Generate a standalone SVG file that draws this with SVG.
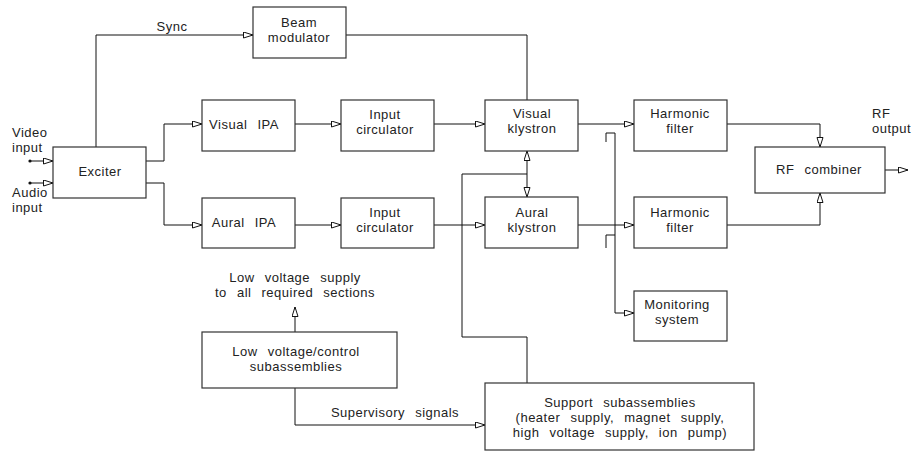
<svg xmlns="http://www.w3.org/2000/svg" width="915" height="453" viewBox="0 0 915 453">
<style>
.box{fill:#fff;stroke:#333;stroke-width:1.2}
.ln{fill:none;stroke:#111;stroke-width:1}
.arr{marker-end:url(#ah)}
text{font-family:"Liberation Sans",Arial,sans-serif;font-size:13px;fill:#222;letter-spacing:0.5px;word-spacing:6px}
.c{text-anchor:middle}
</style>
<defs>
<marker id="ah" markerUnits="userSpaceOnUse" markerWidth="12" markerHeight="8" refX="10" refY="3.5" orient="auto-start-reverse">
<path d="M0.5,0.5 L10,3.5 L0.5,6.5 Z" fill="#fff" stroke="#111" stroke-width="1"/>
</marker>
</defs>
<rect width="915" height="453" fill="#fff"/>
<g id="connectors">
<circle cx="30" cy="161" r="1.6" fill="#111"/>
<circle cx="30" cy="183" r="1.6" fill="#111"/>
<path class="ln arr" d="M30,161 H53"/>
<path class="ln arr" d="M30,183 H53"/>
<path class="ln arr" d="M96,147 V35 H253"/>
<path class="ln" d="M346,35 H527 V100"/>
<path class="ln arr" d="M146,161 H164 V124 H202"/>
<path class="ln arr" d="M146,183 H164 V225 H202"/>
<path class="ln arr" d="M295,124 H341"/>
<path class="ln arr" d="M295,225 H341"/>
<path class="ln arr" d="M434,124 H485"/>
<path class="ln arr" d="M434,225 H485"/>
<path class="ln arr" d="M578,124 H634"/>
<path class="ln arr" d="M578,225 H634"/>
<path class="ln arr" d="M727,124 H820 V147"/>
<path class="ln arr" d="M727,225 H820 V193"/>
<path class="ln arr" d="M885,170 H908"/>
<path class="ln" d="M527,151 V197" marker-start="url(#ah)" marker-end="url(#ah)"/>
<path class="ln" d="M527,174 H462 V337 H527 V383"/>
<path class="ln arr" d="M606,142 V133 H615 V313 H634"/>
<path class="ln" d="M606,248 V235 H615"/>
<path class="ln arr" d="M295,332 V307"/>
<path class="ln arr" d="M295,388 V425 H485"/>
</g>
<g id="labels">
<text x="172" y="31" class="c">Sync</text>
<text x="12" y="137">Video</text>
<text x="12" y="152">input</text>
<text x="12" y="197">Audio</text>
<text x="12" y="212">input</text>
<text x="872" y="118">RF</text>
<text x="872" y="133">output</text>
<text x="295" y="282" class="c">Low voltage supply</text>
<text x="295" y="297" class="c">to all required sections</text>
<text x="395" y="417" class="c">Supervisory signals</text>
</g>
<g id="exciter"><rect class="box" x="53" y="147" width="93" height="51"/><text x="100" y="176" class="c">Exciter</text></g>
<g id="beam-modulator"><rect class="box" x="253" y="7" width="93" height="51"/><text x="299" y="27" class="c">Beam</text><text x="299" y="42" class="c">modulator</text></g>
<g id="visual-ipa"><rect class="box" x="202" y="100" width="93" height="51"/><text x="244" y="129" class="c">Visual IPA</text></g>
<g id="aural-ipa"><rect class="box" x="202" y="198" width="93" height="50"/><text x="244" y="227" class="c">Aural IPA</text></g>
<g id="input-circulator-1"><rect class="box" x="341" y="100" width="93" height="51"/><text x="385" y="119" class="c">Input</text><text x="385" y="134" class="c">circulator</text></g>
<g id="input-circulator-2"><rect class="box" x="341" y="198" width="93" height="50"/><text x="385" y="217" class="c">Input</text><text x="385" y="232" class="c">circulator</text></g>
<g id="visual-klystron"><rect class="box" x="485" y="100" width="93" height="51"/><text x="532" y="118" class="c">Visual</text><text x="532" y="133" class="c">klystron</text></g>
<g id="aural-klystron"><rect class="box" x="485" y="197" width="93" height="51"/><text x="532" y="217" class="c">Aural</text><text x="532" y="232" class="c">klystron</text></g>
<g id="harmonic-filter-1"><rect class="box" x="634" y="100" width="93" height="51"/><text x="680" y="118" class="c">Harmonic</text><text x="680" y="133" class="c">filter</text></g>
<g id="harmonic-filter-2"><rect class="box" x="634" y="197" width="93" height="51"/><text x="680" y="217" class="c">Harmonic</text><text x="680" y="232" class="c">filter</text></g>
<g id="rf-combiner"><rect class="box" x="755" y="147" width="130" height="46"/><text x="819" y="174" class="c">RF combiner</text></g>
<g id="monitoring-system"><rect class="box" x="634" y="291" width="93" height="50"/><text x="677" y="309" class="c">Monitoring</text><text x="677" y="324" class="c">system</text></g>
<g id="low-voltage-control"><rect class="box" x="202" y="332" width="195" height="56"/><text x="296" y="356" class="c">Low voltage/control</text><text x="296" y="371" class="c">subassemblies</text></g>
<g id="support-subassemblies"><rect class="box" x="485" y="383" width="269" height="67"/><text x="620" y="407" class="c">Support subassemblies</text><text x="620" y="422" class="c">(heater supply, magnet supply,</text><text x="620" y="437" class="c">high voltage supply, ion pump)</text></g>
</svg>
